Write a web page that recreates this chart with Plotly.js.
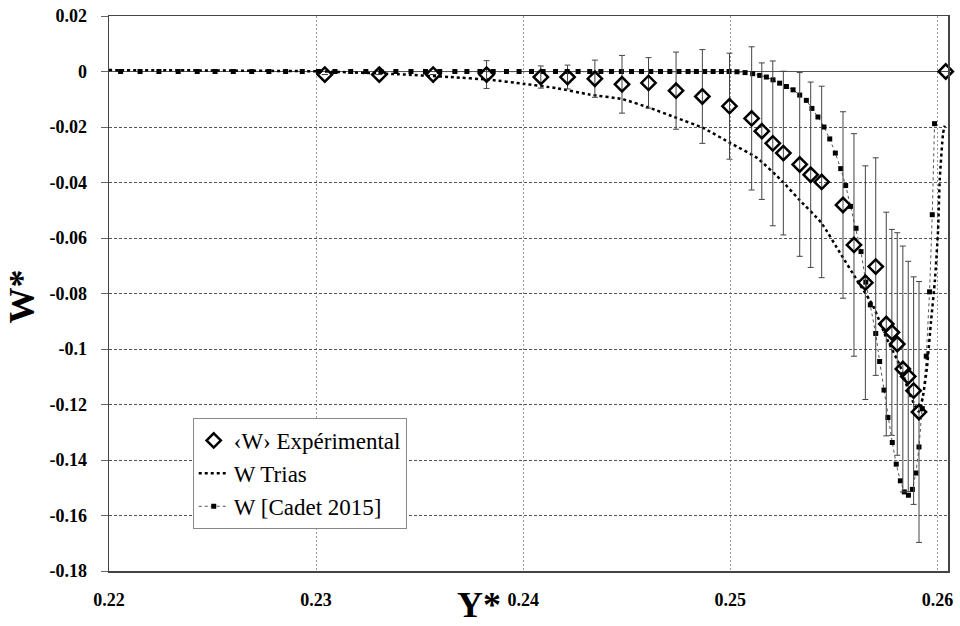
<!DOCTYPE html>
<html>
<head>
<meta charset="utf-8">
<script src="https://cdn.plot.ly/plotly-3.0.1.min.js"></script>
<style>html,body{margin:0;padding:0;background:#fff;}#chart{width:960px;height:626px;}</style>
</head>
<body>
<div id="chart"></div>
<script>
// ---- data ----
const expX = [0.23042,0.23305,0.23565,0.23823,0.24085,0.24214,0.24346,0.24477,0.24605,0.24738,0.24865,0.24996,0.25103,0.25152,0.25205,0.25256,0.25335,0.25388,0.25441,0.25544,0.25597,0.25652,0.25702,0.25753,0.25780,0.25806,0.25833,0.25859,0.25885,0.25911,0.26040];
const expY = [-0.0011,-0.0011,-0.0011,-0.0011,-0.0020,-0.0020,-0.0026,-0.0046,-0.0041,-0.0069,-0.0090,-0.0125,-0.0169,-0.0215,-0.0259,-0.0294,-0.0335,-0.0372,-0.0398,-0.0481,-0.0625,-0.0761,-0.0703,-0.0910,-0.0940,-0.0982,-0.1072,-0.1099,-0.1150,-0.1227,0];
const expErr = [0,0,0,0.0050,0.0040,0.0043,0.0067,0.0104,0.0091,0.0139,0.0169,0.0191,0.0258,0.0246,0.0297,0.0295,0.0331,0.0334,0.0345,0.0336,0.0401,0.0421,0.0392,0.0403,0.0371,0.0401,0.0443,0.0415,0.0410,0.0470,0];

const triasX = [0.2200,0.2244,0.2283,0.2304,0.2340,0.2365,0.2384,0.2400,0.2416,0.2432,0.2448,0.2461,0.2474,0.2487,0.2500,0.2513,0.2525,0.2533,0.2544,0.2553,0.2561,0.2569,0.2575,0.2582,0.2587,0.2591,0.2593,0.2595,0.25969,0.25988,0.26003,0.26011,0.26027,0.26035];
const triasY = [0.0005,0.0004,0.0002,0,-0.0010,-0.0020,-0.0030,-0.0044,-0.0060,-0.0083,-0.0100,-0.0131,-0.0167,-0.0204,-0.0258,-0.0312,-0.0395,-0.0460,-0.0546,-0.0654,-0.0750,-0.0846,-0.0954,-0.1062,-0.1170,-0.1226,-0.1170,-0.1063,-0.0900,-0.0751,-0.0571,-0.0391,-0.0224,-0.0195];

const cadetX = [0.22056,0.22150,0.22241,0.22334,0.22426,0.22512,0.22600,0.22689,0.22772,0.22853,0.22933,0.23011,0.23091,0.23167,0.23240,0.23313,0.23385,0.23458,0.23528,0.23597,0.23670,0.23728,0.23791,0.23855,0.23919,0.23980,0.24040,0.24096,0.24156,0.24212,0.24265,0.24321,0.24375,0.24426,0.24474,0.24523,0.24571,0.24616,0.24663,0.24708,0.24752,0.24796,0.24836,0.24876,0.24917,0.24957,0.24994,
  0.25032,0.25071,0.25108,0.25142,0.25174,0.25206,0.25238,0.25271,0.25303,0.25335,0.25367,0.25394,0.25423,0.25452,0.25480,0.25507,0.25533,0.25557,0.25580,0.25607,0.25631,0.25654,0.25676,0.25702,0.25721,0.25742,0.25761,0.25782,0.25801,0.25821,0.25840,0.25860,0.25879,0.25896,0.25911,0.25927,0.25946,0.25962,0.25975,0.25986];
const cadetY = [0,0,0,0,0,0,0,0,0,0,0,0,0,0,0,0,0,0,0,0,0,0,0,0,0,0,0,0,0,0,0,0,0,0,0,0,0,0,0,0,0,0,0,0,0,0,0,
  -0.0001,-0.0004,-0.0008,-0.0014,-0.0020,-0.0030,-0.0042,-0.0054,-0.0066,-0.0085,-0.0104,-0.0133,-0.0164,-0.0200,-0.0243,-0.0294,-0.0350,-0.0411,-0.0486,-0.0565,-0.0649,-0.0759,-0.0841,-0.0944,-0.1045,-0.1148,-0.1247,-0.1337,-0.1415,-0.1475,-0.1515,-0.1527,-0.1506,-0.1447,-0.1353,-0.1215,-0.1026,-0.0794,-0.0516,-0.0188];

const xTickVals = [0.22,0.23,0.24,0.25,0.26];
const xTickText = ["0.22","0.23","0.24","0.25","0.26"];
const yTickVals = [0.02,0,-0.02,-0.04,-0.06,-0.08,-0.1,-0.12,-0.14,-0.16,-0.18];
const yTickText = ["0.02","0","-0.02","-0.04","-0.06","-0.08","-0.1","-0.12","-0.14","-0.16","-0.18"];

const names = ["\u2039W\u203A Expérimental","W Trias","W [Cadet 2015]"];

// ---- chart ----
const serif = "'Liberation Serif', 'Times New Roman', serif";
const bold = s => "<b>" + s + "</b>";

const traces = [
  { x: cadetX, y: cadetY, name: names[2], type: "scatter", mode: "lines+markers",
    line: {color: "#555", width: 1, dash: "dot"},
    marker: {symbol: "square", size: 5, color: "#000"} },
  { x: triasX, y: triasY, name: names[1], type: "scatter", mode: "lines",
    line: {color: "#000", width: 2.5, dash: "dot", shape: "spline", smoothing: 0.5} },
  { x: expX, y: expY, name: names[0], type: "scatter", mode: "markers", cliponaxis: false,
    marker: {symbol: "diamond-open", size: 11, color: "#000", line: {width: 2.5, color: "#000"}},
    error_y: {type: "data", array: expErr, visible: true, color: "#444", thickness: 1, width: 3} }
];

const layout = {
  width: 960, height: 626,
  margin: {l: 109, r: 12, t: 16, b: 55},
  paper_bgcolor: "#fff", plot_bgcolor: "#fff",
  font: {family: serif, color: "#000", size: 18},
  showlegend: true,
  legend: {x: 0.0998, y: 0.2757, xanchor: "left", yanchor: "top",
    traceorder: "reversed", bgcolor: "#fff", bordercolor: "#888", borderwidth: 1,
    font: {family: serif, size: 23, color: "#000"}},
  xaxis: {range: [0.22, 0.26051], tickmode: "array", tickvals: xTickVals, ticktext: xTickText.map(bold),
    showgrid: true, gridcolor: "#999", griddash: "2px,2px", gridwidth: 1,
    zeroline: false, showline: true, mirror: true, linecolor: "#444", linewidth: 1.5,
    ticks: "", ticklabelstandoff: 12,
    tickfont: {family: serif, size: 18, color: "#000"}},
  yaxis: {range: [-0.18, 0.02], tickmode: "array", tickvals: yTickVals, ticktext: yTickText.map(bold),
    showgrid: true, gridcolor: "#555", griddash: "3px,2px", gridwidth: 1,
    zeroline: true, zerolinecolor: "#555", zerolinewidth: 1,
    showline: true, mirror: true, linecolor: "#444", linewidth: 1.5,
    ticks: "outside", ticklen: 7, tickcolor: "#666", ticklabelstandoff: 10,
    tickfont: {family: serif, size: 18, color: "#000"}},
  annotations: [
    {text: "<b>W*</b>", xref: "paper", yref: "paper", x: -0.104, y: 0.494, xanchor: "center", yanchor: "middle",
     textangle: -90, showarrow: false, font: {family: serif, size: 36, color: "#000"}},
    {text: "<b>Y*</b>", xref: "paper", yref: "paper", x: 0.441, y: -0.062, xanchor: "center", yanchor: "middle",
     showarrow: false, font: {family: serif, size: 36, color: "#000"}}
  ]
};

Plotly.newPlot("chart", traces, layout, {displayModeBar: false, staticPlot: true});
</script>
</body>
</html>
